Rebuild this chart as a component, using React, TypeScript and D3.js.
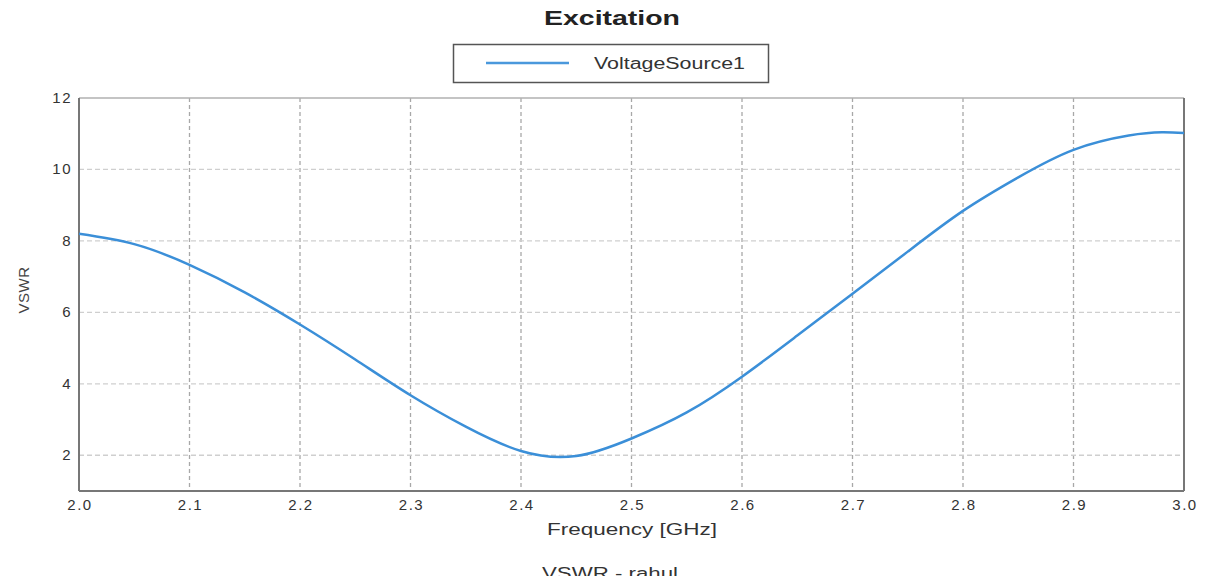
import React from 'react';
import * as d3 from 'd3';

const freqs = [2.0, 2.05, 2.1, 2.15, 2.2, 2.25, 2.3, 2.35, 2.4, 2.45, 2.5, 2.55, 2.6, 2.65, 2.7, 2.75, 2.8, 2.85, 2.9, 2.95, 2.98, 3.0];
const vswr = [8.2, 7.91, 7.33, 6.56, 5.66, 4.68, 3.68, 2.8, 2.12, 1.98, 2.47, 3.2, 4.2, 5.35, 6.52, 7.7, 8.84, 9.78, 10.55, 10.95, 11.04, 11.02];
const xTicks = [2.0, 2.1, 2.2, 2.3, 2.4, 2.5, 2.6, 2.7, 2.8, 2.9, 3.0];
const yTicks = [2, 4, 6, 8, 10, 12];

const W = 1216;
const H = 584;
const left = 79;
const right = 1184;
const top = 98;
const bottom = 491;
const font = '"Liberation Sans", Arial, sans-serif';

const App = () => {
  const x = d3.scaleLinear().domain([2.0, 3.0]).range([left, right]);
  const y = d3.scaleLinear().domain([1, 12]).range([bottom, top]);

  const pts: [number, number][] = freqs.map((f, i) => [f, vswr[i]]);
  const line = d3
    .line<[number, number]>()
    .x(d => x(d[0]))
    .y(d => y(d[1]))
    .curve(d3.curveNatural);

  return (
    <svg width={W} height={H} style={{ position: 'absolute', left: 0, top: 0 }}>
      <defs>
        <clipPath id="cut">
          <rect x={0} y={0} width={W} height={576} />
        </clipPath>
        <clipPath id="plot">
          <rect x={left} y={top} width={right - left} height={bottom - top} />
        </clipPath>
      </defs>
      <rect width={W} height={H} fill="#fff" />
      <text x={544} y={25} textLength={136} lengthAdjust="spacingAndGlyphs" fontFamily={font} fontWeight="bold" fontSize={20} fill="#222">
        Excitation
      </text>

      {/* legend */}
      <rect x={453.5} y={44.5} width={315} height={38} fill="#fff" stroke="#555" strokeWidth={1.5} />
      <line x1={486} x2={569} y1={63} y2={63} stroke="#4a98dc" strokeWidth={2.5} />
      <text x={594} y={69} textLength={151} lengthAdjust="spacingAndGlyphs" fontFamily={font} fontSize={16} fill="#333">VoltageSource1</text>

      {/* grid */}
      {xTicks.slice(1, -1).map(t => (
        <line key={'gx' + t} x1={x(t)} x2={x(t)} y1={top} y2={bottom} stroke="#a8a8a8" strokeWidth={1.3} strokeDasharray="4,3" />
      ))}
      {yTicks.slice(0, -1).map(t => (
        <line key={'gy' + t} x1={left} x2={right} y1={y(t)} y2={y(t)} stroke="#cfcfcf" strokeWidth={1.3} strokeDasharray="5,3" />
      ))}

      {/* frame */}
      <line x1={left} x2={right} y1={top} y2={top} stroke="#b0b0b0" strokeWidth={1.5} />
      <line x1={right} x2={right} y1={top} y2={bottom} stroke="#777" strokeWidth={2} />
      <line x1={left} x2={left} y1={top} y2={bottom} stroke="#777" strokeWidth={2} />
      <line x1={left} x2={right} y1={bottom} y2={bottom} stroke="#777" strokeWidth={2} />

      <path d={line(pts) || ''} fill="none" stroke="#3b8fd8" strokeWidth={2.5} clipPath="url(#plot)" />

      {/* y ticks */}
      {yTicks.map(t => (
        <text key={'yt' + t} x={72} y={y(t) + 5} textAnchor="end" fontFamily={font} fontSize={15} letterSpacing={1.5} fill="#333">
          {t}
        </text>
      ))}
      {/* x ticks */}
      {xTicks.map(t => (
        <text key={'xt' + t} x={x(t) + 1} y={510} textAnchor="middle" fontFamily={font} fontSize={15} letterSpacing={1.5} fill="#333">
          {t.toFixed(1)}
        </text>
      ))}

      <text x={547} y={535} textLength={170} lengthAdjust="spacingAndGlyphs" fontFamily={font} fontSize={16} fill="#333">
        Frequency [GHz]
      </text>
      <text transform={`translate(29,290) rotate(-90)`} textAnchor="middle" fontFamily={font} fontSize={15} letterSpacing={0.5} fill="#444">
        VSWR
      </text>
      <g clipPath="url(#cut)">
        <text x={542} y={579} textLength={136} lengthAdjust="spacingAndGlyphs" fontFamily={font} fontSize={16} fill="#333">
          VSWR - rahul
        </text>
      </g>
    </svg>
  );
};

export default App;
